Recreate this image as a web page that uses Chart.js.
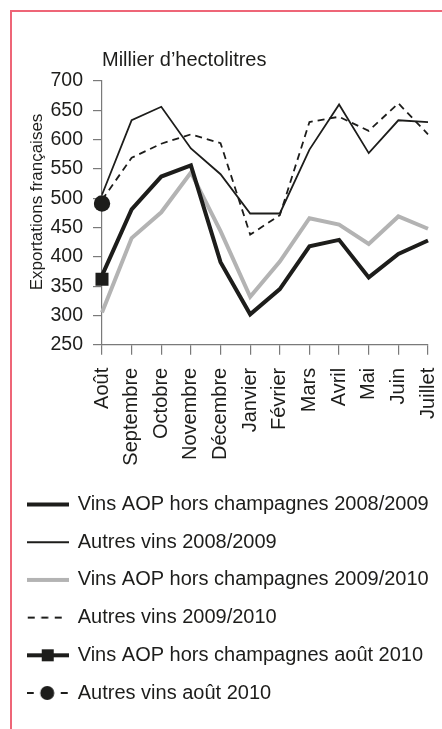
<!DOCTYPE html>
<html lang="fr">
<head>
<meta charset="utf-8">
<script src="https://cdn.jsdelivr.net/npm/chart.js@4.4.1/dist/chart.umd.min.js"></script>
<style>
  html, body { margin: 0; padding: 0; background: #ffffff; }
  #wrap { position: relative; width: 442px; height: 729px; overflow: hidden; }
  #frame { position: absolute; left: 10px; top: 10px; width: 440px; height: 730px;
           border-left: 2px solid #ee6577; border-top: 2px solid #ee6577; box-sizing: border-box; }
  canvas { position: absolute; left: 0; top: 0; }
</style>
</head>
<body>
<div id="wrap">
  <div id="frame"></div>
  <canvas id="c" width="442" height="729"></canvas>
</div>
<script>
// ---- Data ----
const months = ['Août','Septembre','Octobre','Novembre','Décembre','Janvier','Février','Mars','Avril','Mai','Juin','Juillet'];
const aop0809    = [368, 481, 537, 556, 391, 302, 345, 418, 429, 365, 405, 428];
const autres0809 = [506, 633, 656, 585, 541, 474, 474, 583, 660, 577, 633, 630];
const aop0910    = [305, 432, 476, 544, 444, 332, 392, 466, 455, 422, 469, 448];
const autres0910 = [497, 569, 593, 609, 594, 438, 471, 630, 639, 615, 662, 609];
const aopAout2010    = [362];
const autresAout2010 = [491];
const seriesNames = [
  'Vins AOP hors champagnes 2008/2009',
  'Autres vins 2008/2009',
  'Vins AOP hors champagnes 2009/2010',
  'Autres vins 2009/2010',
  'Vins AOP hors champagnes août 2010',
  'Autres vins août 2010'
];
const yTicks = [250, 300, 350, 400, 450, 500, 550, 600, 650, 700];
const unitLabel = 'Millier d\u2019hectolitres';
const yAxisLabel = 'Exportations françaises';

// ---- Styles ----
const BLACK = '#1d1d1b';
const GRAY = '#b3b3b3';
const AXIS = '#7a7a7a';
const FONT = "'Liberation Sans', Arial, Helvetica, sans-serif";

function legendSwatch(kind) {
  const cv = document.createElement('canvas');
  cv.width = 42; cv.height = 20;
  const g = cv.getContext('2d');
  g.strokeStyle = BLACK; g.fillStyle = BLACK;
  const y = 10;
  if (kind === 'thick' || kind === 'gray') {
    g.strokeStyle = kind === 'gray' ? GRAY : BLACK;
    g.lineWidth = 4;
    g.beginPath(); g.moveTo(0, y); g.lineTo(42, y); g.stroke();
  } else if (kind === 'thin') {
    g.lineWidth = 1.8;
    g.beginPath(); g.moveTo(0, y); g.lineTo(42, y); g.stroke();
  } else if (kind === 'dash') {
    g.lineWidth = 1.8;
    g.setLineDash([7, 6.5]);
    g.beginPath(); g.moveTo(1, y); g.lineTo(36, y); g.stroke();
  } else if (kind === 'square') {
    g.lineWidth = 4;
    g.beginPath(); g.moveTo(0, y); g.lineTo(42, y); g.stroke();
    g.fillRect(15, y - 6, 12, 12);
  } else if (kind === 'circle') {
    g.lineWidth = 2;
    g.beginPath(); g.moveTo(0, y); g.lineTo(7, y); g.moveTo(34, y); g.lineTo(41, y); g.stroke();
    g.beginPath(); g.arc(20.5, y, 7, 0, Math.PI * 2); g.fill();
  }
  return cv;
}
const swatches = ['thick', 'thin', 'gray', 'dash', 'square', 'circle'].map(legendSwatch);

const yTitlePlugin = {
  id: 'yTitle',
  afterDraw(chart) {
    const ctx = chart.ctx;
    ctx.save();
    ctx.font = '17px ' + FONT;
    ctx.fillStyle = BLACK;
    ctx.textAlign = 'center';
    ctx.textBaseline = 'alphabetic';
    ctx.translate(41.5, 202);
    ctx.rotate(-Math.PI / 2);
    ctx.fillText(yAxisLabel, 0, 0);
    ctx.restore();
  }
};

const ctx = document.getElementById('c').getContext('2d');
new Chart(ctx, {
  type: 'line',
  data: {
    labels: months,
    datasets: [
      { label: seriesNames[2], data: aop0910, borderColor: GRAY, borderWidth: 4, pointRadius: 0, tension: 0, order: 5 },
      { label: seriesNames[0], data: aop0809, borderColor: BLACK, borderWidth: 4, pointRadius: 0, tension: 0, order: 4 },
      { label: seriesNames[1], data: autres0809, borderColor: BLACK, borderWidth: 1.8, pointRadius: 0, tension: 0, order: 3 },
      { label: seriesNames[3], data: autres0910, borderColor: BLACK, borderWidth: 1.8, borderDash: [7, 5], pointRadius: 0, tension: 0, order: 2 },
      { label: seriesNames[4], data: aopAout2010, borderColor: BLACK, backgroundColor: BLACK, showLine: false, pointStyle: 'rect', pointRadius: 9.2, pointBorderWidth: 0, order: 1 },
      { label: seriesNames[5], data: autresAout2010, borderColor: BLACK, backgroundColor: BLACK, showLine: false, pointStyle: 'circle', pointRadius: 8.2, pointBorderWidth: 0, order: 0 }
    ]
  },
  options: {
    responsive: false,
    animation: false,
    devicePixelRatio: 1,
    layout: { padding: { left: 10, right: 14, top: 40, bottom: 16 } },
    plugins: {
      tooltip: { enabled: false },
      title: {
        display: true,
        text: unitLabel,
        align: 'start',
        fullSize: false,
        color: BLACK,
        font: { family: FONT, size: 20, weight: 'normal' },
        padding: { top: 8, bottom: 9 }
      },
      legend: {
        display: true,
        position: 'bottom',
        align: 'start',
        labels: {
          usePointStyle: true,
          pointStyleWidth: 40,
          padding: 17.7,
          color: BLACK,
          font: { family: FONT, size: 20 },
          generateLabels() {
            return seriesNames.map((t, i) => ({
              text: t, pointStyle: swatches[i], fillStyle: BLACK, strokeStyle: BLACK,
              lineWidth: 0, hidden: false, datasetIndex: i, fontColor: BLACK
            }));
          }
        }
      }
    },
    scales: {
      x: {
        type: 'category',
        offset: false,
        afterFit(scale) { scale.height = 132; scale.paddingRight = 0; scale.paddingLeft = 0; },
        grid: { display: true, drawOnChartArea: false, drawTicks: true, tickLength: 10, color: AXIS, lineWidth: 1.2 },
        border: { display: true, color: AXIS, width: 1.2 },
        ticks: { autoSkip: false, maxRotation: 90, minRotation: 90, padding: 13, color: BLACK, font: { family: FONT, size: 20 } }
      },
      y: {
        type: 'linear',
        min: 250, max: 700,
        afterFit(scale) { scale.width = 92; },
        afterBuildTicks(scale) { scale.ticks = yTicks.map(v => ({ value: v })); },
        grid: { display: true, drawOnChartArea: false, drawTicks: true, tickLength: 9, color: AXIS, lineWidth: 1.2 },
        border: { display: true, color: AXIS, width: 1.2 },
        ticks: { padding: 10, color: BLACK, font: { family: FONT, size: 19.5 } }
      }
    }
  },
  plugins: [yTitlePlugin]
});
</script>
</body>
</html>
